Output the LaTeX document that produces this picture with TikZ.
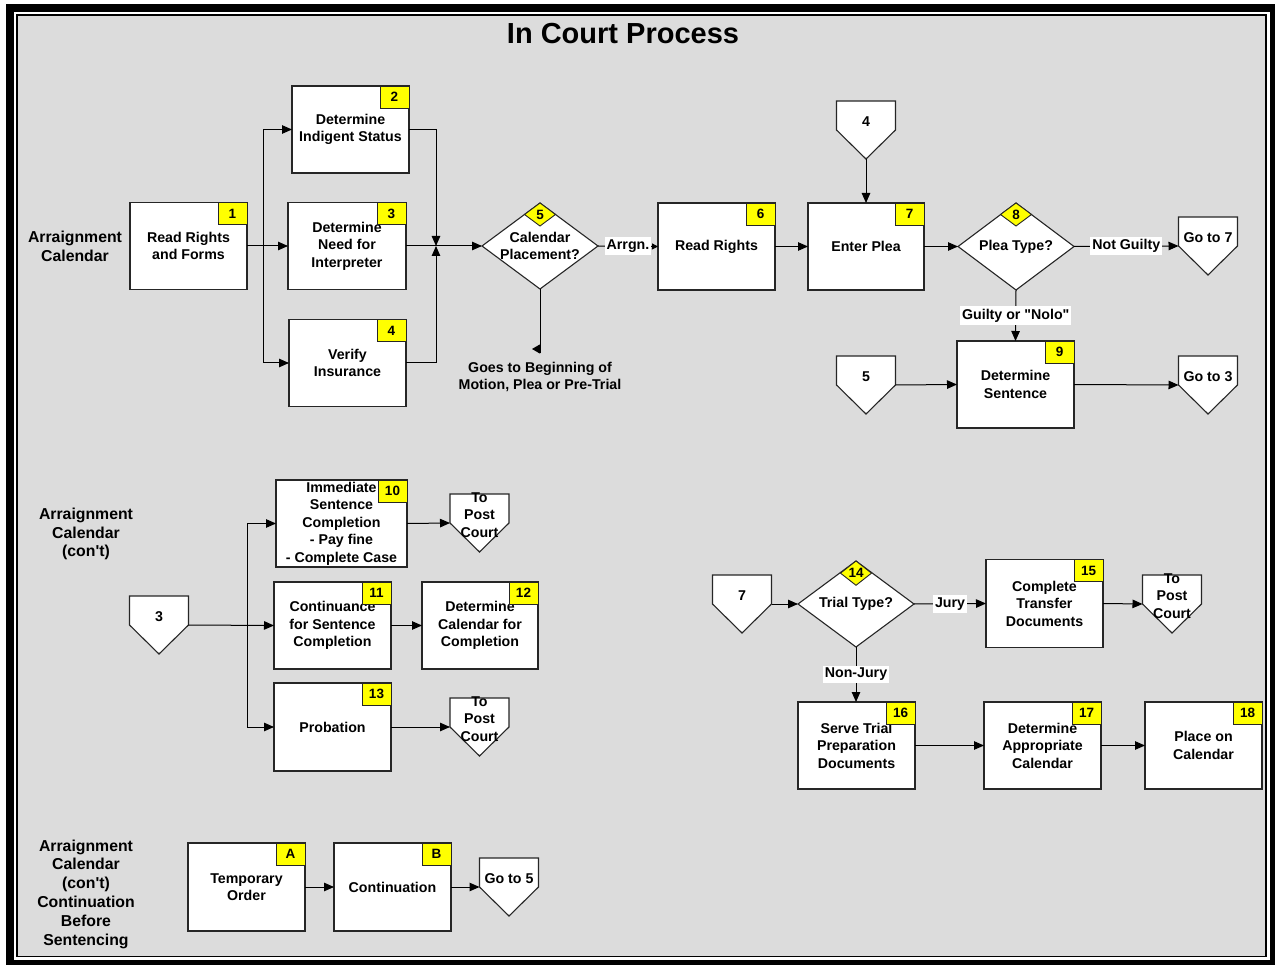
\documentclass[tikz,border=0pt]{standalone}
\usepackage{fontspec}
\setmainfont{Liberation Sans}[Ligatures=TeXOff]
\usetikzlibrary{arrows.meta,shapes.geometric}
\definecolor{panel}{RGB}{220,220,220}
\definecolor{tagyellow}{RGB}{255,255,0}
\begin{document}
\begin{tikzpicture}[x=1pt,y=-1pt,
  txt/.style={font=\bfseries\fontsize{14.2}{17.5}\selectfont, align=center, inner sep=0pt},
  sidelabel/.style={font=\bfseries\fontsize{15.8}{18.8}\selectfont, align=center, inner sep=0pt},
  stepbox/.style={txt, draw=black!85, line width=1.1pt, fill=white,
    minimum width=117pt, minimum height=87pt, outer sep=0pt},
  decision/.style={diamond, draw=black!85, line width=1.1pt, fill=white,
    minimum width=116pt, minimum height=86pt, inner sep=0pt, outer sep=0pt},
  badge/.style={font=\bfseries\fontsize{13.5}{15}\selectfont, draw=black!85, line width=0.9pt,
    fill=tagyellow, minimum width=29pt, minimum height=22pt, inner sep=0pt, outer sep=0pt,
    anchor=north east},
  dbadge/.style={diamond, font=\bfseries\fontsize{13.5}{15}\selectfont, draw=black!85, line width=0.9pt,
    fill=tagyellow, minimum width=31pt, minimum height=23pt, inner sep=0pt, outer sep=0pt,
    anchor=north},
  lbl/.style={txt, fill=white, inner xsep=2pt, inner ysep=2.5pt},
  link/.style={line width=1pt, draw=black},
  arr/.style={link, -{Triangle[length=10pt,width=8.5pt]}},
  smallarr/.style={link, -{Triangle[length=6pt,width=6pt]}},
  offshape/.style={draw=black!85, line width=1.1pt, fill=white},
  offpage/.pic={
    \path[offshape] (-29.5,0) -- (29.5,0) -- (29.5,29) -- (0,58) -- (-29.5,29) -- cycle;
    \node[txt] (-t) at (0,21) {#1};
    \coordinate (-w) at (-29.5,29);
    \coordinate (-e) at (29.5,29);
    \coordinate (-tip) at (0,58);
  }
]
\useasboundingbox (0,0) rectangle (1275,965);

% double frame and grey panel
\fill[white] (0,0) rectangle (1275,965);
\fill[black] (6,4) rectangle (1275,965);
\fill[white] (14,12) rectangle (1270,960);
\fill[black] (16,14) rectangle (1267,957);
\fill[panel] (18,16) rectangle (1265,956);

\node[font=\bfseries\fontsize{29}{34}\selectfont, inner sep=0pt] (title) at (623,34) {In Court Process};

% row labels
\node[sidelabel] (row1) at (75,246) {Arraignment\\Calendar};
\node[sidelabel] (row2) at (86,534) {Arraignment\\Calendar\\(con't)};
\node[sidelabel] (row3) at (86,894) {Arraignment\\Calendar\\(con't)\\Continuation\\Before\\Sentencing};

% ---------- arraignment calendar ----------
\node[stepbox] (b1) at (188.5,246) {Read Rights\\and Forms};
\node[stepbox] (b2) at (350.5,129.5) {Determine\\Indigent Status};
\node[stepbox, minimum width=118pt] (b3) at (347,246) {Determine\\Need for\\Interpreter};
\node[stepbox] (b4) at (347.5,363) {Verify\\Insurance};
\node[decision] (d5) at (540,246) {};
\node[txt] (d5t) at (d5) {Calendar\\Placement?};
\node[stepbox] (b6) at (716.5,246.5) {Read Rights};
\node[stepbox, minimum width=116pt] (b7) at (866,246.5) {Enter Plea};
\node[decision, minimum height=87pt] (d8) at (1016,246.5) {};
\node[txt] (d8t) at (d8) {Plea Type?};
\node[stepbox] (b9) at (1015.5,384.5) {Determine\\Sentence};
\node[txt] (goes) at (540,377) {Goes to Beginning of\\Motion, Plea or Pre-Trial};

\pic (c4) at (866,101) {offpage=4};
\pic (c5) at (866,356) {offpage=5};
\pic (go7) at (1208,217) {offpage={Go to 7}};
\pic (go3) at (1208,356) {offpage={Go to 3}};

\coordinate (sp1) at (263,246);
\coordinate (mj) at (436,246);
\draw[link] (b1.east) -- (sp1);
\draw[arr] (sp1) -- (b3.west);
\draw[arr] (sp1) |- (b2.west);
\draw[arr] (sp1) |- (b4.west);
\draw[arr] (b2.east) -| (mj);
\draw[arr] (b4.east) -| (mj);
\draw[arr] (b3.east) -- (d5.west);
\draw[smallarr] (d5.east) -- node[lbl] (l5) {Arrgn.} (b6.west);
\coordinate (g5) at (540,353);
\coordinate (g5a) at (540,349);
\coordinate (g5b) at (532,349);
\draw[link] (d5.south) -- (g5);
\draw[link, -{Triangle[length=8pt,width=9pt]}] (g5a) -- (g5b);
\draw[arr] (b6.east) -- (b7.west);
\draw[arr] (c4-tip) -- (b7.north);
\draw[arr] (b7.east) -- (d8.west);
\draw[arr] (d8.east) -- node[lbl] (l8a) {Not Guilty} (go7-w);
\draw[arr] (d8.south) -- node[lbl] (l8b) {Guilty or "Nolo"} (b9.north);
\draw[arr] (c5-e) -- (b9.west);
\draw[arr] (b9.east) -- (go3-w);

% ---------- arraignment calendar (con't) ----------
\node[stepbox, minimum width=131pt] (b10) at (341.5,523.5) {Immediate\\Sentence\\Completion\\- Pay fine\\- Complete Case};
\node[stepbox] (b11) at (332.5,625.5) {Continuance\\for Sentence\\Completion};
\node[stepbox, minimum width=116pt] (b12) at (480,625.5) {Determine\\Calendar for\\Completion};
\node[stepbox, minimum height=88pt] (b13) at (332.5,727) {Probation};

\pic (c3) at (159,596) {offpage=3};
\pic (post1) at (479.5,494) {offpage={To\\Post\\Court}};
\pic (post2) at (479.5,698) {offpage={To\\Post\\Court}};

\coordinate (sp3) at (247,625.5);
\draw[arr] (c3-e) -- (b11.west);
\draw[arr] (sp3) |- (b10.west);
\draw[arr] (sp3) |- (b13.west);
\draw[arr] (b10.east) -- (post1-w);
\draw[arr] (b11.east) -- (b12.west);
\draw[arr] (b13.east) -- (post2-w);

% ---------- trial type ----------
\node[decision] (d14) at (856,604) {};
\node[txt] (d14t) at (d14) {Trial Type?};
\node[stepbox, minimum height=88pt] (b15) at (1044.5,603.5) {Complete\\Transfer\\Documents};
\node[stepbox] (b16) at (856.5,745.5) {Serve Trial\\Preparation\\Documents};
\node[stepbox] (b17) at (1042.5,745.5) {Determine\\Appropriate\\Calendar};
\node[stepbox] (b18) at (1203.5,745.5) {Place on\\Calendar};

\pic (c7) at (742,575) {offpage=7};
\pic (post3) at (1172,575) {offpage={To\\Post\\Court}};

\draw[arr] (c7-e) -- (d14.west);
\draw[arr] (d14.east) -- node[lbl] (l14a) {Jury} (b15.west);
\draw[arr] (b15.east) -- (post3-w);
\draw[arr] (d14.south) -- node[lbl] (l14b) {Non-Jury} (d14.south |- b16.north);
\draw[arr] (b16.east) -- (b17.west);
\draw[arr] (b17.east) -- (b18.west);

% ---------- continuation before sentencing ----------
\node[stepbox, minimum height=88pt] (bA) at (246.5,887) {Temporary\\Order};
\node[stepbox, minimum height=88pt] (bB) at (392.5,887) {Continuation};
\pic (go5) at (509,858) {offpage={Go to 5}};
\draw[arr] (bA.east) -- (bB.west);
\draw[arr] (bB.east) -- (go5-w);

% step numbers
\node[badge] (n1) at (b1.north east) {1};
\node[badge] (n2) at (b2.north east) {2};
\node[badge] (n3) at (b3.north east) {3};
\node[badge] (n4) at (b4.north east) {4};
\node[dbadge] (n5) at (d5.north) {5};
\node[badge] (n6) at (b6.north east) {6};
\node[badge] (n7) at (b7.north east) {7};
\node[dbadge] (n8) at (d8.north) {8};
\node[badge] (n9) at (b9.north east) {9};
\node[badge] (n10) at (b10.north east) {10};
\node[badge] (n11) at (b11.north east) {11};
\node[badge] (n12) at (b12.north east) {12};
\node[badge] (n13) at (b13.north east) {13};
\node[dbadge] (n14) at (d14.north) {14};
\node[badge] (n15) at (b15.north east) {15};
\node[badge] (n16) at (b16.north east) {16};
\node[badge] (n17) at (b17.north east) {17};
\node[badge] (n18) at (b18.north east) {18};
\node[badge] (nA) at (bA.north east) {A};
\node[badge] (nB) at (bB.north east) {B};
\end{tikzpicture}
\end{document}
